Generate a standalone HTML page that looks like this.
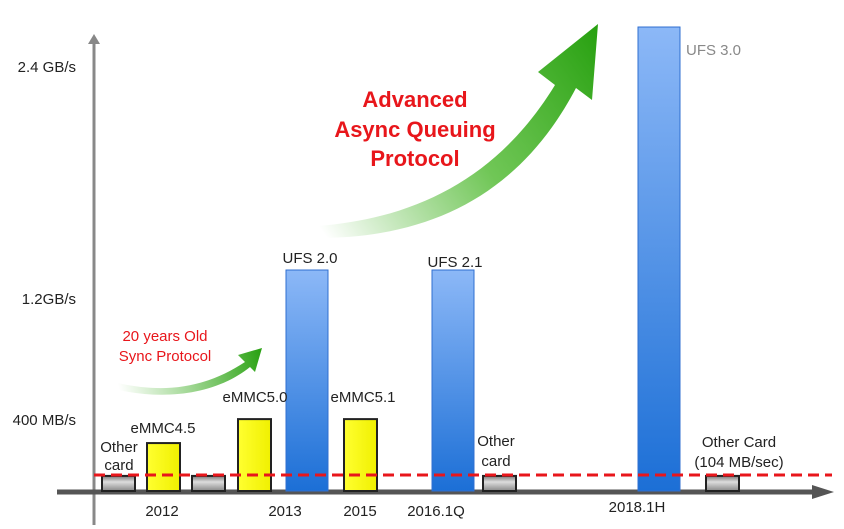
<!DOCTYPE html>
<html><head><meta charset="utf-8"><style>
html,body{margin:0;padding:0;background:#fff;}
svg{display:block;font-family:"Liberation Sans",Arial,sans-serif;}
</style></head><body>
<svg id="chart" width="844" height="529" viewBox="0 0 844 529" xmlns="http://www.w3.org/2000/svg">
<defs>
<linearGradient id="blueG" x1="0" y1="0" x2="0" y2="1"><stop offset="0" stop-color="#8cb8f7"/><stop offset="1" stop-color="#1c6fd6"/></linearGradient>
<linearGradient id="yelG" x1="0" y1="0" x2="1" y2="0"><stop offset="0" stop-color="#ffff30"/><stop offset="1" stop-color="#f0f000"/></linearGradient>
<linearGradient id="grayG" x1="0" y1="0" x2="0" y2="1"><stop offset="0" stop-color="#777"/><stop offset="0.4" stop-color="#ddd"/><stop offset="1" stop-color="#888"/></linearGradient>
<linearGradient id="greenBig" gradientUnits="userSpaceOnUse" x1="320" y1="228" x2="600" y2="30"><stop offset="0" stop-color="#3aae1a" stop-opacity="0"/><stop offset="0.5" stop-color="#4cb82c" stop-opacity="0.8"/><stop offset="1" stop-color="#27a010"/></linearGradient>
<linearGradient id="greenSmall" gradientUnits="userSpaceOnUse" x1="118" y1="385" x2="262" y2="348"><stop offset="0" stop-color="#3aae1a" stop-opacity="0"/><stop offset="1" stop-color="#27a010"/></linearGradient>
</defs>
<g id="arrows">
<path d="M318,226 C420,218 500,175 555,85 L538,72 L598,24 L592,100 L576,88 C520,195 430,238 318,238 Z" fill="url(#greenBig)"/>
<path d="M118,383 C170,395 210,385 245,362 L238,355 L262,348 L255,372 L250,367 C215,395 165,400 118,390 Z" fill="url(#greenSmall)"/>
</g>
<g id="axes">
<line x1="94" y1="40" x2="94" y2="525" stroke="#888" stroke-width="3"/>
<polygon points="88,44 94,34 100,44" fill="#888"/>
<line x1="57" y1="492" x2="815" y2="492" stroke="#555" stroke-width="5"/>
<polygon points="812,485 834,492 812,499" fill="#555"/>
</g>
<g id="bars"></g>
<line x1="94" y1="475" x2="832" y2="475" stroke="#e8161b" stroke-width="3" stroke-dasharray="11,6"/>
<g id="labels" font-size="15" fill="#222"></g>
<g fill="#e8161b" font-weight="bold" font-size="22" text-anchor="middle">
<text x="415" y="107">Advanced</text>
<text x="415" y="137">Async Queuing</text>
<text x="415" y="166">Protocol</text>
</g>
<g fill="#e8161b" font-size="15" text-anchor="middle">
<text x="165" y="341">20 years Old</text>
<text x="165" y="361">Sync Protocol</text>
</g>
<script>
const tickLabels=["2.4 GB/s","1.2GB/s","400 MB/s"];
const tickValues=[2400,1200,400];
const barNames=["Other card","eMMC4.5","Other card","eMMC5.0","UFS 2.0","eMMC5.1","UFS 2.1","Other card","UFS 3.0","Other Card"];
const barValues=[85,270,85,405,1245,405,1245,85,2614,85];
const barTypes=["gray","yellow","gray","yellow","blue","yellow","blue","gray","blue","gray"];
const barSlots=[0,1,2,3,4,5,6,7,8,9];
const yearLabels=["2012","2013","2015","2016.1Q","2018.1H"];
const NS="http://www.w3.org/2000/svg";
const base=491, k=0.1775;
function y(v){return base-v*k;}
const slotX=[102,147,192,238,286,344,432,483,638,706];
const slotW={gray:33,yellow:33,blue:42};
const fills={gray:"url(#grayG)",yellow:"url(#yelG)",blue:"url(#blueG)"};
const tickOff=[7,26,5];
const gB=document.getElementById('bars'), gL=document.getElementById('labels');
function txt(s,x,yy,anchor,color){const t=document.createElementNS(NS,'text');t.setAttribute('x',x);t.setAttribute('y',yy);t.setAttribute('text-anchor',anchor||'middle');if(color)t.setAttribute('fill',color);t.textContent=s;gL.appendChild(t);return t;}
tickLabels.forEach((s,i)=>{const t=txt(s,76,y(tickValues[i])+tickOff[i],'end');

});
barValues.forEach((v,i)=>{const ty=barTypes[barSlots[i]];const x=slotX[barSlots[i]],w=slotW[ty];
const r=document.createElementNS(NS,'rect');r.setAttribute('x',x);r.setAttribute('y',y(v));r.setAttribute('width',w);r.setAttribute('height',base-y(v));r.setAttribute('fill',fills[ty]);
r.setAttribute('stroke',ty=='blue'?'#2f6fd0':'#222');r.setAttribute('stroke-width',ty=='blue'?1:2);


gB.appendChild(r);});
const tl=[];
tl.push(txt("Other",119,452));tl.push(txt("card",119,470));
tl.push(txt(barNames[1],163,433));tl.push(txt(barNames[3],255,402));
tl.push(txt(barNames[4],310,263));tl.push(txt(barNames[5],363,402));
tl.push(txt(barNames[6],455,267));tl.push(txt("Other",496,446));tl.push(txt("card",496,466));
tl.push(txt(barNames[8],686,55,'start','#888'));
tl.push(txt("Other Card",739,447));tl.push(txt("(104 MB/sec)",739,467));
tl.forEach(t=>{
});
const yx=[162,285,360,436,637],yy=[516,516,516,516,512];
yearLabels.forEach((s,i)=>{const t=txt(s,yx[i],yy[i]);

});
</script>
</svg>
</body></html>
